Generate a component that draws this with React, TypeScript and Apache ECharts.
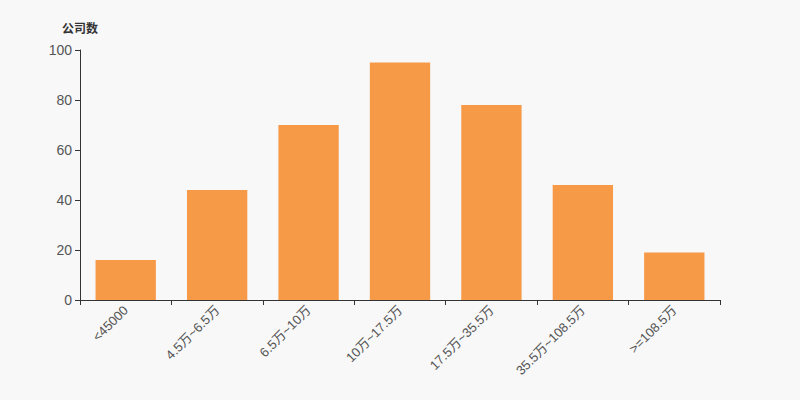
import React, { useEffect, useRef } from "react";
import * as echarts from "echarts";

const categories = ["<45000", "4.5万~6.5万", "6.5万~10万", "10万~17.5万", "17.5万~35.5万", "35.5万~108.5万", ">=108.5万"];
const values = [16, 44, 70, 95, 78, 46, 19];
const yAxisName = "公司数";

const FONT = "'Liberation Sans', Arial, 'Noto Sans CJK SC', sans-serif";

export default function App() {
  const ref = useRef<HTMLDivElement>(null);
  useEffect(() => {
    const chart = echarts.init(ref.current!, null, { renderer: "svg" });
    chart.setOption({
      animation: false,
      backgroundColor: "#f8f8f8",
      grid: { left: 80, right: 80, top: 50, bottom: 100 },
      xAxis: {
        type: "category",
        data: categories,
        axisLine: { lineStyle: { color: "#333" } },
        axisTick: { show: true, length: 5, lineStyle: { color: "#333" } },
        axisLabel: { rotate: 45, color: "#555", fontSize: 13, interval: 0, margin: 8, fontFamily: FONT },
      },
      yAxis: {
        type: "value",
        name: yAxisName,
        nameGap: 15,
        nameTextStyle: { color: "#333", fontWeight: "bold", fontSize: 12, fontFamily: FONT },
        min: 0,
        max: 100,
        interval: 20,
        axisLine: { show: true, lineStyle: { color: "#333" } },
        axisTick: { show: true, length: 5, lineStyle: { color: "#333" } },
        axisLabel: { color: "#555", fontSize: 14, fontFamily: FONT },
        splitLine: { show: false },
      },
      series: [
        {
          type: "bar",
          data: values,
          barWidth: "66%",
          itemStyle: { color: "#f79a48" },
        },
      ],
    });
    return () => chart.dispose();
  }, []);
  return <div ref={ref} style={{ width: 800, height: 400, position: "absolute", left: 0, top: 0 }} />;
}
